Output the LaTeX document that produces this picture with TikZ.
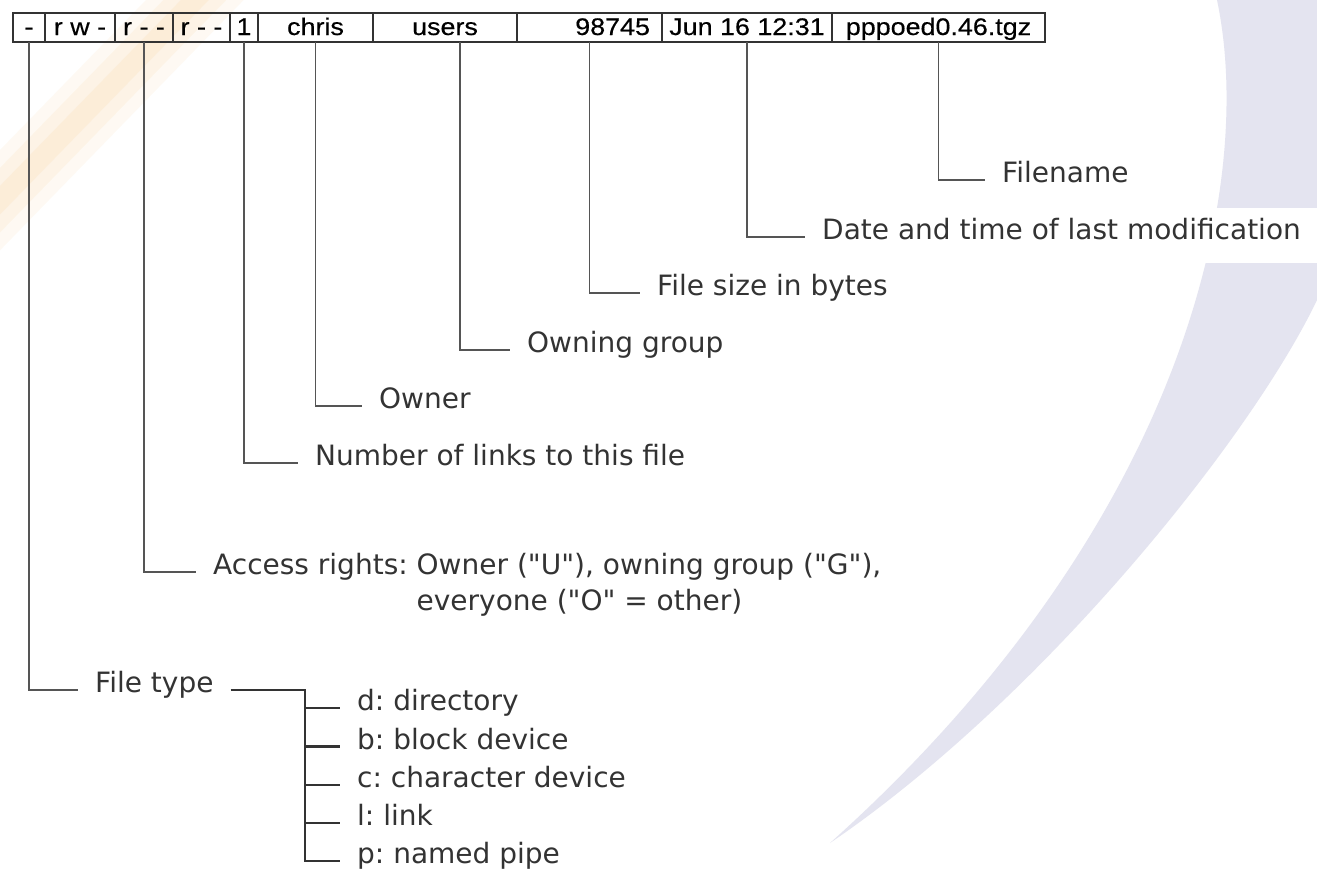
\documentclass[tikz,border=0pt]{standalone}
\usepackage{fontspec}
\setmainfont{DejaVu Sans}[Ligatures=TeXOff]
\newfontfamily\cellfont[FakeStretch=1.12,FakeBold=0.4]{Liberation Sans}
\frenchspacing
\definecolor{lavender}{RGB}{228,228,240}
\definecolor{peach}{RGB}{250,205,140}
\definecolor{inkgray}{RGB}{51,51,51}
\definecolor{leadgray}{RGB}{85,85,85}
\tikzset{
  cell/.style={draw=inkgray, line width=1.4pt, minimum height=29pt, inner sep=0pt, outer sep=0pt,
    anchor=west, text height=18pt, text depth=3pt, text=black, font=\cellfont\fontsize{24}{24}\selectfont},
  lbl/.style={anchor=mid west, inner xsep=17pt, inner ysep=0pt, text=inkgray, font=\fontsize{28}{34}\selectfont},
  leader/.style={draw=leadgray, line width=1.6pt},
  typeline/.style={draw=inkgray, line width=2.2pt},
}
\begin{document}
\begin{tikzpicture}[x=1pt,y=-1pt]
\useasboundingbox (0,0) rectangle (1317,887);
\fill[white] (0,0) rectangle (1317,887);

\fill[lavender] (1217,0) .. controls (1255,180) and (1190,520) .. (830,843)
  .. controls (1040,700) and (1250,440) .. (1317,300) -- (1317,0) -- cycle;
\fill[white] (1180,208) rectangle (1317,263);

\draw[peach, line width=70pt, opacity=0.1] (225,-31) -- (-31,232);
\draw[peach, line width=45pt, opacity=0.12] (225,-31) -- (-31,232);
\draw[peach, line width=20pt, opacity=0.15] (225,-31) -- (-31,232);

\node[cell, minimum width=32pt] (ftype) at (13,27.5) {-};
\node[cell, minimum width=70pt] (uperm) at (45,27.5) {r w -};
\node[cell, minimum width=58pt] (gperm) at (115,27.5) {r - -};
\node[cell, minimum width=57pt] (operm) at (173,27.5) {r - -};
\node[cell, minimum width=28pt] (nlink) at (230,27.5) {1};
\node[cell, minimum width=115pt] (owner) at (258,27.5) {chris};
\node[cell, minimum width=144pt] (group) at (373,27.5) {users};
\node[cell, text width=121pt, align=right, inner xsep=12pt] (fsize) at (517,27.5) {98745};
\node[cell, minimum width=170pt] (mtime) at (662,27.5) {Jun 16 12:31};
\node[cell, minimum width=213pt] (fname) at (832,27.5) {pppoed0.46.tgz};

\node[lbl] (fnamelbl) at (985,180) {Filename};
\node[lbl] (datelbl) at (805,237) {Date and time of last modification};
\node[lbl] (sizelbl) at (640,293) {File size in bytes};
\node[lbl] (grouplbl) at (510,350) {Owning group};
\node[lbl] (ownerlbl) at (362,406) {Owner};
\node[lbl] (linkslbl) at (298,463) {Number of links to this file};
\node[lbl] (accesslbl) at (196,572) {Access rights: Owner ("U"), owning group ("G"),};
\node[lbl] (accessmore) at ([yshift=-36pt]accesslbl.mid west) {\phantom{Access rights: }everyone ("O" = other)};
\node[lbl] (ftypelbl) at (78,690) {File type};

\draw[leader] (fname.south) |- (fnamelbl.mid west);
\draw[leader] (mtime.south) |- (datelbl.mid west);
\draw[leader] (fsize.south) |- (sizelbl.mid west);
\draw[leader] ([xshift=15pt]group.south) |- (grouplbl.mid west);
\draw[leader] (owner.south) |- (ownerlbl.mid west);
\draw[leader] (nlink.south) |- (linkslbl.mid west);
\draw[leader] (gperm.south) |- (accesslbl.mid west);
\draw[leader] (ftype.south) |- (ftypelbl.mid west);

\node[lbl] (tdir) at (340,708) {d: directory};
\node[lbl] (tblk) at (340,746.5) {b: block device};
\node[lbl] (tchr) at (340,785) {c: character device};
\node[lbl] (tlnk) at (340,823) {l: link};
\node[lbl] (tpipe) at (340,861) {p: named pipe};

\coordinate (tbar) at (305,690);
\draw[typeline] (ftypelbl.mid east) -- (ftypelbl.mid east -| tbar) |- (tpipe.mid west);
\draw[typeline] (tdir.mid west -| tbar) -- (tdir.mid west);
\draw[typeline] (tblk.mid west -| tbar) -- (tblk.mid west);
\draw[typeline] (tchr.mid west -| tbar) -- (tchr.mid west);
\draw[typeline] (tlnk.mid west -| tbar) -- (tlnk.mid west);
\end{tikzpicture}
\end{document}
